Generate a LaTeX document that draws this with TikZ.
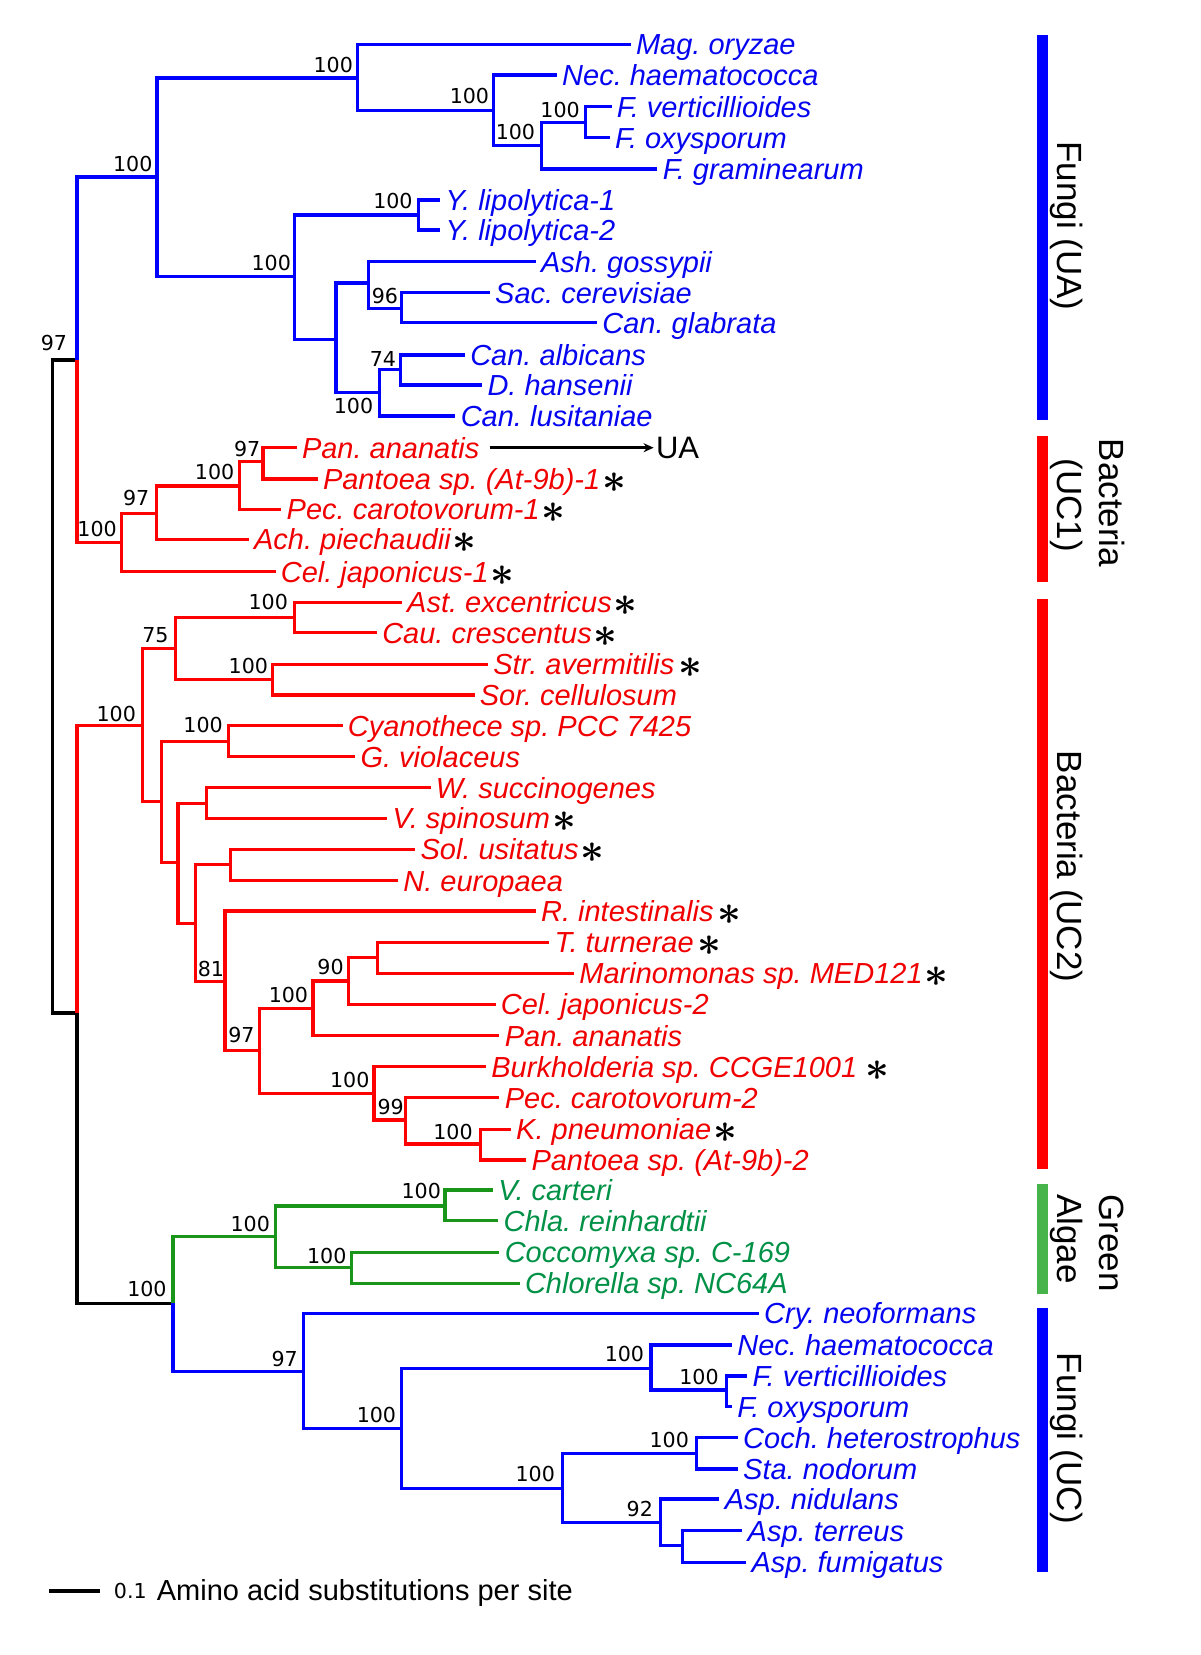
\documentclass[tikz,border=0pt]{standalone}
\usepackage{fontspec}
\setmainfont{Liberation Sans}
\newfontfamily\bsfont{DejaVu Sans}
\usetikzlibrary{arrows.meta}
\definecolor{lblue}{RGB}{0,0,255}
\definecolor{tblue}{RGB}{5,5,240}
\definecolor{lred}{RGB}{255,0,0}
\definecolor{tred}{RGB}{240,0,0}
\definecolor{lgreen}{RGB}{25,150,25}
\definecolor{tgreen}{RGB}{0,145,70}
\definecolor{bgreen}{RGB}{70,180,75}
\newcommand\bstar[1][1pt]{\hspace{#1}\textcolor{black}{\raisebox{-1.6pt}{\fontsize{21}{21}\selectfont\boldmath$\ast$}}}
\tikzset{
  tline/.style={line width=1.6pt},
  tb/.style={tline,draw=lblue},
  tr/.style={tline,draw=lred},
  tg/.style={tline,draw=lgreen},
  tk/.style={tline,draw=black},
  leaf/.style={anchor=west,inner xsep=2.5pt,inner ysep=0pt,text height=10.4pt,text depth=0pt,font=\fontsize{14.5}{17}\selectfont\itshape},
  lfb/.style={leaf,text=tblue},
  lfr/.style={leaf,text=tred},
  lfg/.style={leaf,text=tgreen},
  bs/.style={anchor=south east,inner sep=0pt,font=\bsfont\fontsize{10.3}{12}\selectfont},
  bsb/.style={anchor=north east,inner sep=0pt,font=\bsfont\fontsize{10.3}{12}\selectfont},
  side/.style={rotate=-90,anchor=base,inner sep=0pt,font=\fontsize{17.5}{20}\selectfont},
  cbar/.style={line width=5.5pt},
}
\begin{document}
\frenchspacing
\begin{tikzpicture}[x=0.5pt,y=-0.5pt]
\useasboundingbox (0,0) rectangle (1200,1655);
% internal nodes
\coordinate (R) at (52.4,686.5);
\coordinate (A97) at (77,360);
\coordinate (UA) at (156.9,177);
\coordinate (nB) at (357.8,78);
\coordinate (NH) at (493.6,110.7);
\coordinate (F1) at (541.5,145.7);
\coordinate (G1) at (585.5,122.7);
\coordinate (UAb) at (294.6,276.7);
\coordinate (Yl) at (418.2,215);
\coordinate (C1) at (336.0,339.3);
\coordinate (D1) at (368.5,283);
\coordinate (N96) at (401.8,308.3);
\coordinate (E1) at (379.6,392.7);
\coordinate (N74) at (400.6,369.3);
\coordinate (UC1) at (121.3,542.3);
\coordinate (N97b) at (156.1,513.3);
\coordinate (N100c) at (239.2,486);
\coordinate (N97d) at (262.9,461.7);
\coordinate (Bn) at (77,1013);
\coordinate (UC2) at (142.3,725.7);
\coordinate (N75) at (175.3,648.3);
\coordinate (nAst) at (294.6,617.3);
\coordinate (nStr) at (272.8,679.3);
\coordinate (H1) at (161.5,801.7);
\coordinate (Cy) at (228.8,741.7);
\coordinate (I1) at (177.9,862.7);
\coordinate (W1) at (206.6,803.3);
\coordinate (J1) at (195.2,923.3);
\coordinate (nSol) at (230.7,864.3);
\coordinate (N81) at (225.0,981.7);
\coordinate (N97e) at (259.1,1050.7);
\coordinate (K1) at (313.0,1008.3);
\coordinate (N90) at (348.2,981);
\coordinate (T1) at (377.7,957.7);
\coordinate (L1) at (373.9,1093.3);
\coordinate (N99) at (405.6,1120);
\coordinate (Kp) at (480.2,1144);
\coordinate (Nn) at (173.0,1303.3);
\coordinate (GA) at (275.5,1236.7);
\coordinate (Vc) at (445.0,1206);
\coordinate (Co) at (351.3,1267.7);
\coordinate (FUC) at (303.4,1371.7);
\coordinate (P1) at (401.8,1428.3);
\coordinate (Q1) at (650.9,1368.3);
\coordinate (R2) at (726.3,1390);
\coordinate (S1) at (562.5,1488.3);
\coordinate (Co2) at (696.8,1453.3);
\coordinate (N92) at (660.5,1522.7);
\coordinate (nAt) at (682.3,1545.7);
% leaves: Fungi (UA)
\node[lfb] (mag) at (630.6,44.3) {Mag. oryzae};
\node[lfb] (nec1) at (556.8,75) {Nec. haematococca};
\node[lfb] (fv1) at (611.5,106.7) {F. verticillioides};
\node[lfb] (fo1) at (609.6,137.7) {F. oxysporum};
\node[lfb] (fg) at (657.4,169) {F. graminearum};
\node[lfb] (yl1) at (440.1,200) {Y. lipolytica-1};
\node[lfb] (yl2) at (440.1,230) {Y. lipolytica-2};
\node[lfb] (ash) at (535.7,261.7) {Ash. gossypii};
\node[lfb] (sac) at (489.8,292.7) {Sac. cerevisiae};
\node[lfb] (cgl) at (597,322.7) {Can. glabrata};
\node[lfb] (cal) at (464.9,355) {Can. albicans};
\node[lfb] (dha) at (482.1,385) {D. hansenii};
\node[lfb] (clu) at (455.4,416) {Can. lusitaniae};
% Bacteria UC1
\node[lfr] (pan1) at (296.6,447.7) {Pan. ananatis};
\node[lfr] (pant1) at (317.6,479) {Pantoea sp. (At-9b)-1\bstar};
\node[lfr] (pec1) at (281.3,509.3) {Pec. carotovorum-1\bstar};
\node[lfr] (ach) at (248.7,539.3) {Ach. piechaudii\bstar};
\node[lfr] (cel1) at (275.5,571.7) {Cel. japonicus-1\bstar};
% Bacteria UC2
\node[lfr] (astx) at (401.8,602.3) {Ast. excentricus\bstar};
\node[lfr] (cau) at (376.9,632.7) {Cau. crescentus\bstar};
\node[lfr] (stra) at (487.9,664.3) {Str. avermitilis\bstar[2pt]};
\node[lfr] (sor) at (474.5,695) {Sor. cellulosum};
\node[lfr] (cya) at (342.5,725.7) {Cyanothece sp. PCC 7425};
\node[lfr] (gvi) at (355.1,756.7) {G. violaceus};
\node[lfr] (wsu) at (430.5,787.7) {W. succinogenes};
\node[lfr] (vsp) at (387.2,818.3) {V. spinosum\bstar};
\node[lfr] (solu) at (415.2,849.3) {Sol. usitatus\bstar};
\node[lfr] (neu) at (398.0,880.7) {N. europaea};
\node[lfr] (rin) at (535.7,911) {R. intestinalis\bstar[2pt]};
\node[lfr] (ttu) at (549.1,942.3) {T. turnerae\bstar[2pt]};
\node[lfr] (mar) at (574.0,973.3) {Marinomonas sp. MED121\bstar};
\node[lfr] (cel2) at (495.5,1004.3) {Cel. japonicus-2};
\node[lfr] (pan2) at (499.4,1035.7) {Pan. ananatis};
\node[lfr] (bur) at (486.0,1066.7) {Burkholderia sp. CCGE1001\bstar[4pt]};
\node[lfr] (pec2) at (499.4,1097.7) {Pec. carotovorum-2};
\node[lfr] (kpn) at (510.8,1129.3) {K. pneumoniae\bstar};
\node[lfr] (pant2) at (526.1,1160) {Pantoea sp. (At-9b)-2};
% Green algae
\node[lfg] (vca) at (492.9,1190) {V. carteri};
\node[lfg] (chl) at (498.2,1220.7) {Chla. reinhardtii};
\node[lfg] (coc) at (499.4,1252.3) {Coccomyxa sp. C-169};
\node[lfg] (chlo) at (519.6,1283.3) {Chlorella sp. NC64A};
% Fungi (UC)
\node[lfb] (cry) at (758.8,1313.3) {Cry. neoformans};
\node[lfb] (nec2) at (732.0,1345) {Nec. haematococca};
\node[lfb] (fv2) at (747.3,1376) {F. verticillioides};
\node[lfb] (fo2) at (732.0,1406.7) {F. oxysporum};
\node[lfb] (coch) at (737.8,1437.7) {Coch. heterostrophus};
\node[lfb] (sta) at (737.8,1469) {Sta. nodorum};
\node[lfb] (asn) at (719.4,1499) {Asp. nidulans};
\node[lfb] (aster) at (742.3,1530.7) {Asp. terreus};
\node[lfb] (asf) at (746.2,1562.3) {Asp. fumigatus};
% branches
\draw[tk] (R) |- (A97);
\draw[tk] (R) |- (Bn);
\draw[tb] (A97) |- (UA);
\draw[tr] (A97) |- (UC1);
\draw[tb] (UA) |- (nB);
\draw[tb] (UA) |- (UAb);
\draw[tb] (nB) |- (mag.west);
\draw[tb] (nB) |- (NH);
\draw[tb] (NH) |- (nec1.west);
\draw[tb] (NH) |- (F1);
\draw[tb] (F1) |- (G1);
\draw[tb] (F1) |- (fg.west);
\draw[tb] (G1) |- (fv1.west);
\draw[tb] (G1) |- (fo1.west);
\draw[tb] (UAb) |- (Yl);
\draw[tb] (UAb) |- (C1);
\draw[tb] (Yl) |- (yl1.west);
\draw[tb] (Yl) |- (yl2.west);
\draw[tb] (C1) |- (D1);
\draw[tb] (C1) |- (E1);
\draw[tb] (D1) |- (ash.west);
\draw[tb] (D1) |- (N96);
\draw[tb] (N96) |- (sac.west);
\draw[tb] (N96) |- (cgl.west);
\draw[tb] (E1) |- (N74);
\draw[tb] (E1) |- (clu.west);
\draw[tb] (N74) |- (cal.west);
\draw[tb] (N74) |- (dha.west);
\draw[tr] (UC1) |- (N97b);
\draw[tr] (UC1) |- (cel1.west);
\draw[tr] (N97b) |- (N100c);
\draw[tr] (N97b) |- (ach.west);
\draw[tr] (N100c) |- (N97d);
\draw[tr] (N100c) |- (pec1.west);
\draw[tr] (N97d) |- (pan1.west);
\draw[tr] (N97d) |- (pant1.west);
\draw[tr] (Bn) |- (UC2);
\draw[tk] (Bn) |- (Nn);
\draw[tr] (UC2) |- (N75);
\draw[tr] (UC2) |- (H1);
\draw[tr] (N75) |- (nAst);
\draw[tr] (N75) |- (nStr);
\draw[tr] (nAst) |- (astx.west);
\draw[tr] (nAst) |- (cau.west);
\draw[tr] (nStr) |- (stra.west);
\draw[tr] (nStr) |- (sor.west);
\draw[tr] (H1) |- (Cy);
\draw[tr] (H1) |- (I1);
\draw[tr] (Cy) |- (cya.west);
\draw[tr] (Cy) |- (gvi.west);
\draw[tr] (I1) |- (W1);
\draw[tr] (I1) |- (J1);
\draw[tr] (W1) |- (wsu.west);
\draw[tr] (W1) |- (vsp.west);
\draw[tr] (J1) |- (nSol);
\draw[tr] (J1) |- (N81);
\draw[tr] (nSol) |- (solu.west);
\draw[tr] (nSol) |- (neu.west);
\draw[tr] (N81) |- (rin.west);
\draw[tr] (N81) |- (N97e);
\draw[tr] (N97e) |- (K1);
\draw[tr] (N97e) |- (L1);
\draw[tr] (K1) |- (N90);
\draw[tr] (K1) |- (pan2.west);
\draw[tr] (N90) |- (T1);
\draw[tr] (N90) |- (cel2.west);
\draw[tr] (T1) |- (ttu.west);
\draw[tr] (T1) |- (mar.west);
\draw[tr] (L1) |- (bur.west);
\draw[tr] (L1) |- (N99);
\draw[tr] (N99) |- (pec2.west);
\draw[tr] (N99) |- (Kp);
\draw[tr] (Kp) |- (kpn.west);
\draw[tr] (Kp) |- (pant2.west);
\draw[tg] (Nn) |- (GA);
\draw[tg] (GA) |- (Vc);
\draw[tg] (GA) |- (Co);
\draw[tg] (Vc) |- (vca.west);
\draw[tg] (Vc) |- (chl.west);
\draw[tg] (Co) |- (coc.west);
\draw[tg] (Co) |- (chlo.west);
\draw[tb] (Nn) |- (FUC);
\draw[tb] (FUC) |- (cry.west);
\draw[tb] (FUC) |- (P1);
\draw[tb] (P1) |- (Q1);
\draw[tb] (P1) |- (S1);
\draw[tb] (Q1) |- (nec2.west);
\draw[tb] (Q1) |- (R2);
\draw[tb] (R2) |- (fv2.west);
\draw[tb] (R2) |- (fo2.west);
\draw[tb] (S1) |- (Co2);
\draw[tb] (S1) |- (N92);
\draw[tb] (Co2) |- (coch.west);
\draw[tb] (Co2) |- (sta.west);
\draw[tb] (N92) |- (asn.west);
\draw[tb] (N92) |- (nAt);
\draw[tb] (nAt) |- (aster.west);
\draw[tb] (nAt) |- (asf.west);
% arrow to UA
\node[anchor=west,inner xsep=1pt,inner ysep=0pt,text height=11.1pt,text depth=0pt,font=\fontsize{15.5}{18}\selectfont] (uaT) at (653.6,447.7) {UA};
\draw[line width=1.3pt,-{Stealth[length=5pt,width=4.5pt]}] ([xshift=2.5pt]pan1.east) -- (uaT.west);
% bootstrap values
\node[bs] (b1) at (67.5,351) {97};
\node[bs] (b2) at (152.8,172) {100};
\node[bs] (b3) at (353.3,73) {100};
\node[bs] (b4) at (489.5,104) {100};
\node[bs] (b5) at (535.5,140) {100};
\node[bs] (b6) at (580.2,118) {100};
\node[bs] (b7) at (413.0,209) {100};
\node[bs] (b8) at (291.3,271) {100};
\node[bs] (b9) at (398.5,304) {96};
\node[bs] (b10) at (396.5,367) {74};
\node[bsb] (b11) at (373.6,398) {100};
\node[bs] (b12) at (117.2,537) {100};
\node[bs] (b13) at (149.7,506) {97};
\node[bs] (b14) at (234.7,480) {100};
\node[bs] (b15) at (260.7,457) {97};
\node[bs] (b16) at (136.3,722) {100};
\node[bs] (b17) at (168.9,643) {75};
\node[bs] (b18) at (288.3,610) {100};
\node[bs] (b19) at (268.4,674) {100};
\node[bs] (b20) at (223.2,733) {100};
\node[bs] (b21) at (224.4,977) {81};
\node[bs] (b22) at (255.0,1043) {97};
\node[bs] (b23) at (308.5,1003) {100};
\node[bs] (b24) at (344.1,975) {90};
\node[bs] (b25) at (369.8,1088) {100};
\node[bs] (b26) at (404.2,1115) {99};
\node[bs] (b27) at (473.1,1140) {100};
\node[bs] (b28) at (167.0,1297) {100};
\node[bs] (b29) at (270.3,1232) {100};
\node[bs] (b30) at (441.3,1199) {100};
\node[bs] (b31) at (346.8,1264) {100};
\node[bs] (b32) at (298.2,1367) {97};
\node[bs] (b33) at (396.5,1423) {100};
\node[bs] (b34) at (555.3,1482) {100};
\node[bs] (b35) at (644.5,1362) {100};
\node[bs] (b36) at (719.1,1385) {100};
\node[bs] (b37) at (689.3,1448) {100};
\node[bs] (b38) at (653.3,1517) {92};
% group bars
\draw[cbar,draw=lblue] (1042.5,35) -- (1042.5,420);
\draw[cbar,draw=lred] (1042.5,436) -- (1042.5,581.7);
\draw[cbar,draw=lred] (1042.5,599.3) -- (1042.5,1169.3);
\draw[cbar,draw=bgreen] (1042.5,1184.3) -- (1042.5,1294.3);
\draw[cbar,draw=lblue] (1042.5,1307.7) -- (1042.5,1572.3);
% group labels
\node[side] (gFA) at (1057.3,226) {Fungi (UA)};
\node[side] (gB1a) at (1099.4,503) {Bacteria};
\node[side] (gB1b) at (1057.3,505) {(UC1)};
\node[side] (gB2) at (1057.3,866.7) {Bacteria (UC2)};
\node[side] (gGa) at (1099.4,1243) {Green};
\node[side] (gGb) at (1057.3,1239) {Algae};
\node[side] (gFC) at (1057.3,1438.3) {Fungi (UC)};
% scale bar
\coordinate (sbL) at (49.0,1591);
\coordinate (sbR) at (99.5,1591);
\draw[line width=1.7pt] (sbL) -- (sbR);
\node[anchor=base west,inner sep=0pt,font=\bsfont\fontsize{10.3}{12}\selectfont] (sbn) at (113.5,1598) {0.1};
\node[anchor=base west,inner sep=0pt,font=\fontsize{14.5}{17}\selectfont] (sbt) at (156.5,1600) {Amino acid substitutions per site};
\end{tikzpicture}
\end{document}
